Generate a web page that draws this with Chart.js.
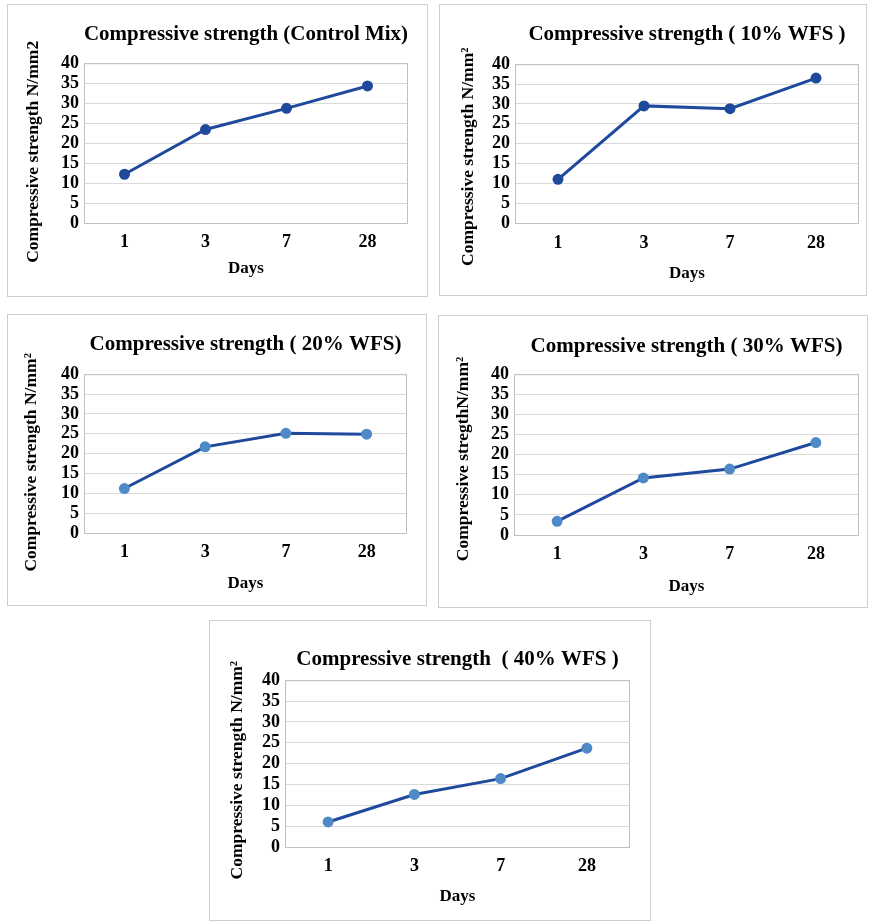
<!DOCTYPE html>
<html>
<head>
<meta charset="utf-8">
<script src="https://cdn.jsdelivr.net/npm/chart.js@4"></script>
<style>
  html, body { margin: 0; padding: 0; background: #fff; overflow: hidden; }
  body { width: 870px; height: 921px; position: relative; }
  .panel { position: absolute; border: 1px solid #cfcfcf; box-sizing: border-box; background: #fff; }
  .panel canvas { position: absolute; left: 0; top: 0; }
</style>
</head>
<body>

<script>
'use strict'

// data
const days = ['1', '3', '7', '28'];
const controlMix = [12.2, 23.4, 28.7, 34.3];
const wfs10 = [11.0, 29.5, 28.8, 36.5];
const wfs20 = [11.2, 21.7, 25.1, 24.9];
const wfs30 = [3.4, 14.2, 16.4, 23.0];
const wfs40 = [6.0, 12.6, 16.4, 23.7];
const yMin = 0, yMax = 40, yStep = 5;

const titles = [
  'Compressive strength (Control Mix)',
  'Compressive strength ( 10% WFS )',
  'Compressive strength ( 20% WFS)',
  'Compressive strength ( 30% WFS)',
  'Compressive strength  ( 40% WFS )'
];
const yTitles = [
  'Compressive strength N/mm2',
  'Compressive strength N/mm\u00B2',
  'Compressive strength N/mm\u00B2',
  'Compressive stregthN/mm\u00B2',
  'Compressive strength N/mm\u00B2'
];
const series = [controlMix, wfs10, wfs20, wfs30, wfs40];

// box + margins of each panel
// ySpaces: trailing blanks push the rotated axis title a little lower, like the original
const panels = [
  { x: 7,   y: 4,   w: 421, h: 293, left: 76, right: 21, titleTop: 17, titleBot: 17, bottom: 75, tickPad: 9,  daysPad: 19, yPad: 15, ySpaces: 4, marker: '#1F4A9C' },
  { x: 439, y: 4,   w: 428, h: 292, left: 75, right: 9,  titleTop: 17, titleBot: 18, bottom: 74, tickPad: 10, daysPad: 13, yPad: 18, ySpaces: 6, marker: '#1F4A9C' },
  { x: 7,   y: 314, w: 420, h: 292, left: 76, right: 21, titleTop: 17, titleBot: 18, bottom: 74, tickPad: 9,  daysPad: 13, yPad: 13, ySpaces: 4, marker: '#4E8AC8' },
  { x: 438, y: 315, w: 430, h: 293, left: 75, right: 10, titleTop: 18, titleBot: 16, bottom: 74, tickPad: 9,  daysPad: 12, yPad: 14, ySpaces: 2, marker: '#4E8AC8' },
  { x: 209, y: 620, w: 442, h: 301, left: 75, right: 22, titleTop: 26, titleBot: 9,  bottom: 75, tickPad: 9,  daysPad: 15, yPad: 17, ySpaces: 3, marker: '#4E8AC8' }
];

const fontFamily = '"Liberation Serif", "Times New Roman", serif';

const plotBorder = {
  id: 'plotBorder',
  afterDraw(chart) {
    const a = chart.chartArea;
    const ctx = chart.ctx;
    ctx.save();
    ctx.strokeStyle = '#bfbfbf';
    ctx.lineWidth = 1;
    ctx.strokeRect(a.left + 0.5, a.top + 0.5, a.right - a.left - 1, a.bottom - a.top);
    ctx.restore();
  }
};

panels.forEach(function (p, i) {
  let div = document.createElement('div');
  div.className = 'panel';
  div.style.left = p.x + 'px';
  div.style.top = p.y + 'px';
  div.style.width = p.w + 'px';
  div.style.height = p.h + 'px';
  let canvas = document.createElement('canvas');
  canvas.width = p.w;
  canvas.height = p.h;
  canvas.style.width = p.w + 'px';
  canvas.style.height = p.h + 'px';
  div.appendChild(canvas);
  document.body.appendChild(div);

  new Chart(canvas.getContext('2d'), {
    type: 'line',
    data: {
      labels: days,
      datasets: [{
        label: titles[i],
        data: series[i],
        borderColor: '#1F4A9C',
        backgroundColor: p.marker,
        pointBackgroundColor: p.marker,
        pointBorderColor: p.marker,
        borderWidth: 3,
        pointRadius: 4,
        tension: 0
      }]
    },
    options: {
      responsive: false,
      animation: false,
      devicePixelRatio: 1,
      layout: { padding: { left: 0, right: p.right, top: 0, bottom: 0 } },
      plugins: {
        legend: { display: false },
        tooltip: { enabled: false },
        title: {
          display: true,
          text: titles[i],
          color: '#000',
          fullSize: false,
          font: { family: fontFamily, size: 21, weight: 'bold', lineHeight: 1.2 },
          padding: { top: p.titleTop, bottom: p.titleBot - 1 }
        }
      },
      scales: {
        x: {
          offset: true,
          grid: { display: false, drawTicks: false },
          border: { display: false },
          ticks: { color: '#000', padding: p.tickPad, font: { family: fontFamily, size: 18, weight: 'bold' } },
          title: {
            display: true,
            text: 'Days',
            color: '#000',
            padding: { top: 0, bottom: p.daysPad },
            font: { family: fontFamily, size: 17, weight: 'bold', lineHeight: 1.2 }
          },
          afterFit: function (scale) { scale.height = p.bottom; }
        },
        y: {
          min: yMin,
          max: yMax,
          grid: { color: '#d9d9d9', drawTicks: false },
          border: { display: false },
          ticks: {
            stepSize: yStep,
            autoSkip: false,
            color: '#000',
            padding: 5,
            font: { family: fontFamily, size: 18, weight: 'bold' }
          },
          title: {
            display: true,
            text: yTitles[i] + ' '.repeat(p.ySpaces),
            color: '#000',
            padding: { top: p.yPad, bottom: 0 },
            font: { family: fontFamily, size: 17.5, weight: 'bold', lineHeight: 1.2 }
          },
          afterFit: function (scale) { scale.width = p.left; }
        }
      }
    },
    plugins: [plotBorder]
  });
});
</script>
</body>
</html>
